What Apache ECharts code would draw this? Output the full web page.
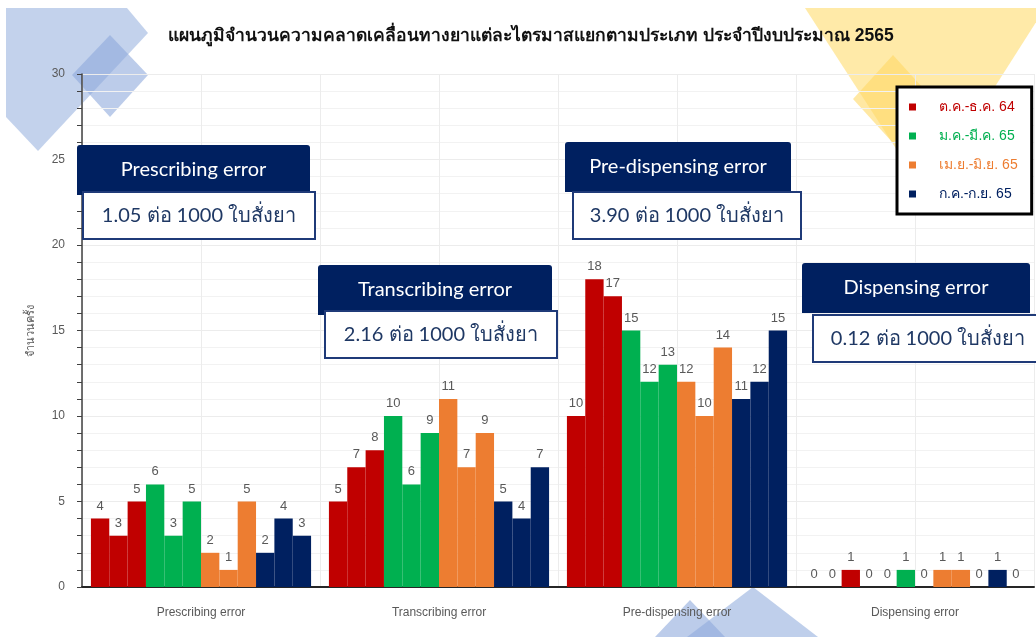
<!DOCTYPE html>
<html>
<head>
<meta charset="utf-8">
<script src="https://cdn.jsdelivr.net/npm/echarts@6/dist/echarts.min.js"></script>
<style>
  html, body { margin: 0; padding: 0; background: #fff; }
  #main { width: 1036px; height: 637px; }
</style>
</head>
<body>
<div id="main"></div>
<script>
// ประเภทความคลาดเคลื่อน
const categories = ['Prescribing error', 'Transcribing error', 'Pre-dispensing error', 'Dispensing error']
const quarters = ['ต.ค.-ธ.ค. 64', 'ม.ค.-มี.ค. 65', 'เม.ย.-มิ.ย. 65', 'ก.ค.-ก.ย. 65']
const quarterColors = ['#C00000', '#00B050', '#ED7D31', '#002060']
// อัตราต่อ 1000 ใบสั่งยา
const rates = ['1.05', '2.16', '3.90', '0.12']

// จำนวนครั้งรายเดือน (ลำดับตาม categories)
const oct = [4, 5, 10, 0]
const nov = [3, 7, 18, 0]
const dec = [5, 8, 17, 1]
const jan = [6, 10, 15, 0]
const feb = [3, 6, 12, 0]
const mar = [5, 9, 13, 1]
const apr = [2, 11, 12, 0]
const may = [1, 7, 10, 1]
const jun = [5, 9, 14, 1]
const jul = [2, 5, 11, 0]
const aug = [4, 4, 12, 1]
const sep = [3, 7, 15, 0]

const months = [oct, nov, dec, jan, feb, mar, apr, may, jun, jul, aug, sep]

const mChart = echarts.init(document.getElementById('main'))

// กล่องข้อความหัวข้อ + อัตรา
const boxes = [
  { x: 77, y: 145, w: 233, wx: 83, wy: 192, ww: 232 },
  { x: 318, y: 265, w: 234, wx: 325, wy: 311, ww: 232 },
  { x: 565, y: 142, w: 226, wx: 573, wy: 192, ww: 228 },
  { x: 802, y: 263, w: 228, wx: 813, wy: 315, ww: 240 }
]
const boxGraphics = []
boxes.forEach((b, i) => {
  boxGraphics.push({
    type: 'rect', z: 100,
    shape: { x: b.x, y: b.y, width: b.w, height: 50, r: [3, 3, 0, 0] },
    style: { fill: '#002060' }
  })
  boxGraphics.push({
    type: 'text', z: 101,
    x: b.x + b.w / 2, y: b.y + 25,
    style: { text: categories[i], fill: '#fff', font: '20px Lato, sans-serif', align: 'center', verticalAlign: 'middle' }
  })
  boxGraphics.push({
    type: 'rect', z: 102,
    shape: { x: b.wx, y: b.wy, width: b.ww, height: 47 },
    style: { fill: '#fff', stroke: '#1F3A78', lineWidth: 2 }
  })
  boxGraphics.push({
    type: 'text', z: 103,
    x: i === 3 ? 928 : b.wx + b.ww / 2, y: b.wy + 24,
    style: { text: rates[i] + ' ต่อ 1000 ใบสั่งยา', fill: '#1F3864', font: '20px Lato, sans-serif', align: 'center', verticalAlign: 'middle' }
  })
})

// ลวดลายพื้นหลัง
const decor = [
  { type: 'polygon', z: -1, shape: { points: [[6, 8], [127, 8], [148, 33], [38, 151], [6, 117]] }, style: { fill: 'rgba(180,199,231,0.8)' } },
  { type: 'polygon', z: -1, shape: { points: [[110, 35], [148, 75], [110, 117], [72, 75]] }, style: { fill: 'rgba(143,170,220,0.6)' } },
  { type: 'polygon', z: -1, shape: { points: [[805, 8], [1045, 8], [926, 195]] }, style: { fill: 'rgba(255,230,153,0.85)' } },
  { type: 'polygon', z: -1, shape: { points: [[893, 55], [933, 99], [893, 143], [853, 99]] }, style: { fill: 'rgba(255,217,102,0.6)' } },
  { type: 'polygon', z: -1, shape: { points: [[753, 587], [818, 637], [687, 637]] }, style: { fill: 'rgba(180,199,231,0.85)' } },
  { type: 'polygon', z: -1, shape: { points: [[690, 600], [725, 637], [655, 637]] }, style: { fill: 'rgba(143,170,220,0.6)' } }
]

const series = months.map((m, i) => {
  const q = Math.floor(i / 3)
  return {
    type: 'bar',
    name: quarters[q],
    data: m,
    barGap: 0,
    barCategoryGap: '7.5%',
    itemStyle: { color: quarterColors[q] },
    label: { show: true, position: 'top', color: '#595959', fontSize: 13, distance: 6 }
  }
})

const options = {
  animation: false,
  title: {
    text: 'แผนภูมิจำนวนความคลาดเคลื่อนทางยาแต่ละไตรมาสแยกตามประเภท ประจำปีงบประมาณ 2565',
    left: 163,
    top: 22,
    textStyle: { fontSize: 17.5, fontWeight: 'bold', color: '#111' }
  },
  legend: {
    orient: 'vertical',
    left: 897,
    top: 87,
    padding: [12, 14, 12, 12],
    itemWidth: 7,
    itemHeight: 7,
    itemGap: 13,
    icon: 'rect',
    borderColor: '#000',
    borderWidth: 3,
    backgroundColor: '#fff',
    z: 50,
    textStyle: { fontSize: 14, lineHeight: 16, padding: [0, 0, 0, 18] },
    data: quarters.map((q, i) => ({ name: q, textStyle: { color: quarterColors[i] } }))
  },
  grid: { left: 82, right: 2, top: 74, bottom: 50 },
  xAxis: [
    {
      type: 'category',
      data: categories,
      axisLine: { lineStyle: { color: '#262626', width: 2 } },
      axisTick: { show: false },
      axisLabel: { color: '#595959', fontSize: 12, margin: 20 }
    },
    {
      type: 'value',
      min: 0, max: 8, interval: 1,
      position: 'bottom',
      axisLine: { show: false },
      axisTick: { show: false },
      axisLabel: { show: false },
      splitLine: { lineStyle: { color: '#ececec' } }
    }
  ],
  yAxis: {
    type: 'value',
    min: 0, max: 30, interval: 5,
    name: 'จำนวนครั้ง',
    nameLocation: 'middle',
    nameGap: 46,
    nameTextStyle: { color: '#595959', fontSize: 11 },
    axisLine: { show: true, lineStyle: { color: '#404040', width: 1.5 } },
    axisTick: { show: true, length: 5, lineStyle: { color: '#404040' } },
    minorTick: { show: true, splitNumber: 5, length: 5, lineStyle: { color: '#404040' } },
    axisLabel: { color: '#595959', fontSize: 12, margin: 17 },
    splitLine: { lineStyle: { color: '#ececec' } },
    minorSplitLine: { show: true, lineStyle: { color: '#f2f2f2' } }
  },
  graphic: decor.concat(boxGraphics),
  series: series
}
mChart.setOption(options)
</script>
</body>
</html>
